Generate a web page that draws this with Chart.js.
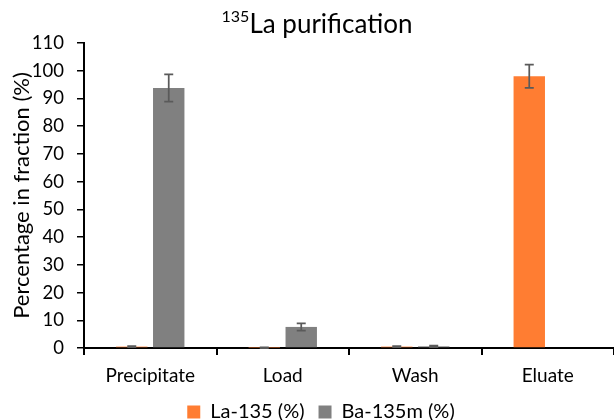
<!DOCTYPE html>
<html>
<head>
<meta charset="utf-8">
<script src="https://cdn.jsdelivr.net/npm/chart.js@4"></script>
<style>
  html, body { margin: 0; padding: 0; background: #fff; }
  #wrap { position: relative; width: 614px; height: 420px; overflow: hidden; }
  #title { position: absolute; left: 217px; width: 200px; top: 7px; text-align: center;
    font: 26px Lato, sans-serif; color: #000; white-space: nowrap; }
  #title sup { font-size: 16px; vertical-align: 11px; line-height: 0; }
  canvas { display: block; }
</style>
</head>
<body>
<div id="wrap">
  <div id="title"><sup>135</sup>La purification</div>
  <canvas id="c" width="614" height="420"></canvas>
</div>
<script>
const categories = ['Precipitate', 'Load', 'Wash', 'Eluate'];
const la135 = [0.5, 0.1, 0.5, 98.0];
const la135Err = [0.2, 0.1, 0.2, 4.2];
const ba135m = [93.8, 7.6, 0.6, 0];
const ba135mErr = [4.9, 1.3, 0.3, 0];
const yTicks = [0, 10, 20, 30, 40, 50, 60, 70, 80, 90, 100, 110];

const FONT = 'Lato, sans-serif';

// +/- error whiskers, positioned from the bar elements and the y scale
const errorBars = {
  id: 'errorBars',
  afterDatasetsDraw(chart) {
    const ctx = chart.ctx;
    const y = chart.scales.y;
    chart.data.datasets.forEach((ds, i) => {
      chart.getDatasetMeta(i).data.forEach((bar, j) => {
        const e = ds.errors[j];
        if (!e) return;
        const v = ds.data[j];
        const top = y.getPixelForValue(v + e);
        const bot = y.getPixelForValue(Math.max(0, v - e));
        ctx.save();
        ctx.strokeStyle = '#5a5a5a';
        ctx.lineWidth = 1.75;
        ctx.beginPath();
        ctx.moveTo(bar.x, top); ctx.lineTo(bar.x, bot);
        ctx.moveTo(bar.x - 4.5, top); ctx.lineTo(bar.x + 4.5, top);
        ctx.moveTo(bar.x - 4.5, bot); ctx.lineTo(bar.x + 4.5, bot);
        ctx.stroke();
        ctx.restore();
      });
    });
  }
};

new Chart(document.getElementById('c'), {
  type: 'bar',
  data: {
    labels: categories,
    datasets: [
      { label: 'La-135 (%)', data: la135, errors: la135Err, backgroundColor: '#FF7D32' },
      { label: 'Ba-135m (%)', data: ba135m, errors: ba135mErr, backgroundColor: '#808080' },
    ],
  },
  options: {
    responsive: false,
    animation: false,
    devicePixelRatio: 1,
    categoryPercentage: 0.558,
    barPercentage: 0.85,
    // left padding pushes the bottom legend right, like the original
    layout: { padding: { top: 43, right: 0, left: 28, bottom: -12 } },
    plugins: {
      tooltip: { enabled: false },
      legend: {
        position: 'bottom',
        labels: { boxWidth: 13, boxHeight: 13, padding: 14, color: '#000', font: { family: FONT, size: 20 } },
      },
    },
    scales: {
      x: {
        afterFit: (s) => { s.height = 40; },
        grid: { display: true, drawOnChartArea: false, drawTicks: true, tickLength: 7, color: '#000', lineWidth: 2 },
        border: { color: '#000', width: 2 },
        ticks: { color: '#000', font: { family: FONT, size: 19 }, padding: 9 },
      },
      y: {
        min: 0, max: 110,
        afterBuildTicks: (s) => { s.ticks = yTicks.map((v) => ({ value: v })); },
        afterFit: (s) => { s.width = 56; },
        grid: { display: true, drawOnChartArea: false, drawTicks: true, tickLength: 7, color: '#000', lineWidth: 1.5 },
        border: { color: '#000', width: 2 },
        ticks: { color: '#000', font: { family: FONT, size: 18.5 }, padding: 13 },
        title: { display: true, text: 'Percentage in fraction (%)', color: '#000', font: { family: FONT, size: 22 }, padding: { top: -19, bottom: 0 } },
      },
    },
  },
  plugins: [errorBars],
});
</script>
</body>
</html>
